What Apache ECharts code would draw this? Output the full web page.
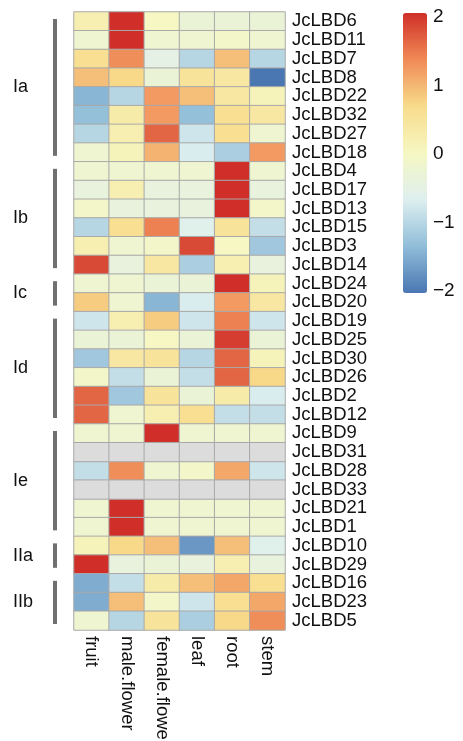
<!DOCTYPE html>
<html>
<head>
<meta charset="utf-8">
<script src="https://cdn.jsdelivr.net/npm/echarts@6/dist/echarts.min.js"></script>
<style>
  html, body { margin: 0; padding: 0; background: #fff; }
  #chart1 { width: 463px; height: 741px; }
</style>
</head>
<body>
<div id="chart1"></div>
<script>
var tissues = ['fruit', 'male.flower', 'female.flower', 'leaf', 'root', 'stem'];
var genes = ['JcLBD6', 'JcLBD11', 'JcLBD7', 'JcLBD8', 'JcLBD22', 'JcLBD32', 'JcLBD27', 'JcLBD18',
    'JcLBD4', 'JcLBD17', 'JcLBD13', 'JcLBD15', 'JcLBD3', 'JcLBD14', 'JcLBD24', 'JcLBD20',
    'JcLBD19', 'JcLBD25', 'JcLBD30', 'JcLBD26', 'JcLBD2', 'JcLBD12', 'JcLBD9', 'JcLBD31',
    'JcLBD28', 'JcLBD33', 'JcLBD21', 'JcLBD1', 'JcLBD10', 'JcLBD29', 'JcLBD16', 'JcLBD23', 'JcLBD5'];
// z-scores per gene, same order as tissues; null = NA (grey)
var expr = [
    [0.2, 2.0, 0.0, -0.3, -0.3, -0.3],
    [-0.2, 2.0, -0.2, -0.2, -0.1, -0.2],
    [0.6, 1.3, -0.5, -1.0, 0.9, -1.0],
    [0.9, 0.7, -0.3, 0.5, 0.4, -2.0],
    [-1.4, -1.0, 1.2, 0.9, 0.4, 0.1],
    [-1.3, 0.3, 1.2, -1.3, 0.6, 0.4],
    [-1.0, 0.2, 1.6, -0.8, 0.6, -0.2],
    [-0.2, 0.1, 1.0, -0.7, -1.1, 1.2],
    [-0.2, -0.2, -0.2, -0.2, 2.0, -0.2],
    [-0.4, 0.2, -0.4, -0.4, 2.0, -0.4],
    [-0.1, -0.4, -0.4, -0.4, 2.0, -0.1],
    [-1.0, 0.6, 1.4, -0.6, 0.5, -0.9],
    [0.2, -0.2, -0.1, 1.8, 0.0, -1.2],
    [1.8, -0.4, 0.4, -1.1, 0.2, -0.4],
    [-0.2, -0.2, -0.3, -0.3, 2.0, 0.1],
    [0.8, -0.2, -1.4, -0.7, 1.2, 0.4],
    [-0.8, 0.2, 0.8, -0.8, 1.4, -0.8],
    [-0.3, -0.3, 0.0, -0.3, 1.9, -0.3],
    [-1.2, 0.4, 0.5, -1.0, 1.6, 0.1],
    [-0.1, -0.9, -0.3, -0.9, 1.6, 0.7],
    [1.6, -1.2, 0.5, -0.3, 0.3, -0.7],
    [1.6, -0.2, 0.2, 0.6, -0.9, -0.9],
    [-0.2, -0.2, 2.0, -0.2, -0.2, -0.2],
    [null, null, null, null, null, null],
    [-0.9, 1.3, -0.2, -0.1, 1.1, -0.8],
    [null, null, null, null, null, null],
    [-0.2, 2.0, -0.2, -0.2, -0.2, -0.2],
    [-0.2, 2.0, -0.2, -0.2, -0.2, -0.2],
    [0.1, 0.7, 0.9, -1.7, 0.9, -0.6],
    [2.0, -0.4, -0.3, -0.4, 0.2, -0.4],
    [-1.5, -0.9, 0.3, 0.9, 1.1, 0.6],
    [-1.5, 0.9, -0.1, -0.8, 0.6, 1.1],
    [-0.2, -1.0, 0.5, -1.1, 0.7, 1.3]
];
var groupNames = ['Ia', 'Ib', 'Ic', 'Id', 'Ie', 'IIa', 'IIb'];
var groupFirst = ['JcLBD6', 'JcLBD4', 'JcLBD24', 'JcLBD19', 'JcLBD9', 'JcLBD10', 'JcLBD16'];
var groupLast = ['JcLBD18', 'JcLBD14', 'JcLBD20', 'JcLBD12', 'JcLBD1', 'JcLBD29', 'JcLBD5'];

var chart = echarts.init(document.getElementById('chart1'));

var cells = [], naCells = [];
genes.forEach(function (g, i) {
    tissues.forEach(function (t, j) {
        var v = expr[i][j];
        if (v === null) naCells.push([j, i, 0]);
        else cells.push([j, i, v]);
    });
});

var font = 'Liberation Sans, Arial, sans-serif';

var option = {
    animation: false,
    grid: [
        { left: 74, top: 12, width: 211, height: 618, outerBoundsMode: 'none', containLabel: false },
        { left: 403, top: 17, width: 24, height: 274, outerBoundsMode: 'none', containLabel: false }
    ],
    xAxis: [{
        type: 'category', data: tissues, gridIndex: 0,
        axisLine: { show: false }, axisTick: { show: false }, splitLine: { show: false },
        axisLabel: { rotate: -90, margin: 6, fontSize: 18.5, color: '#111', fontFamily: font, interval: 0 }
    }, {
        type: 'value', gridIndex: 1, show: false
    }],
    yAxis: [{
        type: 'category', data: genes, inverse: true, position: 'right', gridIndex: 0,
        axisLine: { show: false }, axisTick: { show: false }, splitLine: { show: false },
        axisLabel: { margin: 7, fontSize: 18.5, color: '#111', fontFamily: font, interval: 0 }
    }, {
        type: 'value', gridIndex: 1, position: 'right', min: -2, max: 2, interval: 1,
        axisLine: { show: false }, axisTick: { show: false }, splitLine: { show: false },
        axisLabel: {
            margin: 6, fontSize: 19, color: '#111', fontFamily: font,
            formatter: function (v) { return String(v).replace('-', '\u2212'); }
        }
    }],
    visualMap: {
        type: 'continuous', min: -2, max: 2, seriesIndex: 0,
        orient: 'vertical', left: 403, top: 13, padding: 0, itemWidth: 24, itemHeight: 280,
        calculable: false, text: null, showLabel: false,
        inRange: { color: ['#4a77b2', '#90bdd9', '#deefef', '#f6f7c2', '#f8dc8c', '#f08a56', '#cf2f28'] }
    },
    series: [{
        type: 'heatmap', data: cells,
        itemStyle: { borderColor: '#a9a9a9', borderWidth: 1 }
    }, {
        type: 'heatmap', data: naCells,
        itemStyle: { color: '#dcdcdc', borderColor: '#a9a9a9', borderWidth: 1 }
    }]
};

chart.setOption(option);

// group brackets on the left, placed from the row scale
var gfx = [];
groupNames.forEach(function (name, k) {
    var half = 618 / genes.length / 2;
    var y0 = chart.convertToPixel({ yAxisIndex: 0 }, groupFirst[k]) - half + 7;
    var y1 = chart.convertToPixel({ yAxisIndex: 0 }, groupLast[k]) + half - 6;
    gfx.push({
        type: 'rect', shape: { x: 53, y: y0, width: 4, height: y1 - y0 },
        style: { fill: '#707070' }
    });
    gfx.push({
        type: 'text', x: 13, y: (y0 + y1) / 2,
        style: { text: name, font: '18px ' + font, fill: '#111', verticalAlign: 'middle' }
    });
});
chart.setOption({ graphic: gfx });
</script>
</body>
</html>
